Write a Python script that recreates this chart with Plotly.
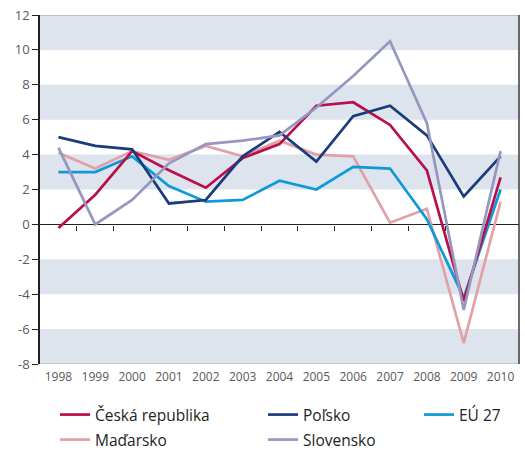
import plotly.graph_objects as go

years = [1998, 1999, 2000, 2001, 2002, 2003, 2004, 2005, 2006, 2007, 2008, 2009, 2010]
y_ticks = [-8, -6, -4, -2, 0, 2, 4, 6, 8, 10, 12]
y_tick_labels = ["-8", "-6", "-4", "-2", "0", "2", "4", "6", "8", "10", "12"]

cesko = [-0.2, 1.7, 4.2, 3.1, 2.1, 3.8, 4.6, 6.8, 7.0, 5.7, 3.1, -4.4, 2.7]
polsko = [5.0, 4.5, 4.3, 1.2, 1.4, 3.9, 5.3, 3.6, 6.2, 6.8, 5.1, 1.6, 3.9]
eu27 = [3.0, 3.0, 3.9, 2.2, 1.3, 1.4, 2.5, 2.0, 3.3, 3.2, 0.3, -4.2, 2.0]
madarsko = [4.1, 3.2, 4.2, 3.7, 4.5, 3.9, 4.8, 4.0, 3.9, 0.1, 0.9, -6.8, 1.3]
slovensko = [4.4, 0.0, 1.4, 3.5, 4.6, 4.8, 5.1, 6.7, 8.5, 10.5, 5.8, -4.9, 4.2]

series = [
    ("Maďarsko", madarsko, "#e1a1a6", "legend4"),
    ("EÚ 27", eu27, "#0d9ad8", "legend3"),
    ("Česká republika", cesko, "#b80f4a", "legend"),
    ("Poľsko", polsko, "#1b3b7a", "legend2"),
    ("Slovensko", slovensko, "#9697bf", "legend5"),
]

FONT = "Open Sans"
W, H = 525, 453
ML, MR, MT, MB = 40, 6, 15, 89
PW, PH = W - ML - MR, H - MT - MB

fig = go.Figure()
for name, vals, color, leg in series:
    fig.add_trace(go.Scatter(x=years, y=vals, name=name, mode="lines",
                             line=dict(color=color, width=2.7), legend=leg))

# helper trace for the tick axis along zero
fig.add_trace(go.Scatter(x=[years[0]], y=[0], xaxis="x2", mode="lines",
                         showlegend=False, hoverinfo="skip",
                         line=dict(color="rgba(0,0,0,0)")))

shapes = []
band = "#dee4ed"
for lo, hi in [(10, 12), (6, 8), (2, 4), (-4, -2), (-8, -6)]:
    shapes.append(dict(type="rect", xref="x domain", yref="y", x0=0, x1=1,
                       y0=lo, y1=hi, fillcolor=band, line=dict(width=0), layer="below"))
shapes.append(dict(type="line", xref="x domain", yref="y", x0=0, x1=1, y0=12, y1=12,
                   line=dict(color="#bcbec0", width=2), layer="below"))
shapes.append(dict(type="line", xref="x domain", yref="y", x0=0, x1=1, y0=-8, y1=-8,
                   line=dict(color="#bcbec0", width=1.5), layer="below"))
shapes.append(dict(type="line", xref="x domain", yref="y domain", x0=1, x1=1, y0=0, y1=1,
                   line=dict(color="#3a3a3a", width=1.5), layer="below"))

legend_pos = {
    "legend": (55, 415),
    "legend2": (263, 415),
    "legend3": (419, 415),
    "legend4": (55, 440),
    "legend5": (263, 440),
}
leg_layout = {}
for key, (px, py) in legend_pos.items():
    leg_layout[key] = dict(xref="paper", yref="paper", x=(px - ML) / PW, y=(H - MB - py) / PH,
                           xanchor="left", yanchor="middle", orientation="v",
                           bgcolor="rgba(0,0,0,0)", borderwidth=0,
                           font=dict(family=FONT, size=15.5, color="#231f20"))

fig.update_layout(
    width=W, height=H,
    margin=dict(l=ML, r=MR, t=MT, b=MB, autoexpand=False),
    plot_bgcolor="white", paper_bgcolor="white",
    font=dict(family=FONT, color="#58595b"),
    shapes=shapes,
    xaxis=dict(range=[1997.5, 2010.5], tickvals=years, ticks="", showgrid=False,
               zeroline=False, showline=False, tickfont=dict(size=12, color="#58595b"),
               ticklabelstandoff=4),
    xaxis2=dict(overlaying="x", anchor="free", position=0.4, side="bottom",
                range=[1997.5, 2010.5], tickvals=[y + 0.5 for y in years[:-1]],
                ticks="outside", ticklen=5, tickcolor="#231f20", tickwidth=1,
                showticklabels=False, showgrid=False, zeroline=False,
                showline=True, linecolor="#231f20", linewidth=1.2, layer="below traces"),
    yaxis=dict(range=[-8, 12], tickvals=y_ticks, ticktext=y_tick_labels,
               ticks="outside", ticklen=6,
               tickcolor="#231f20", showgrid=False, zeroline=False, showline=True,
               linecolor="#231f20", linewidth=1.5, tickfont=dict(size=13, color="#58595b")),
    showlegend=True,
    **leg_layout,
)

fig.write_html("out.html", config={"displayModeBar": False},
               post_script="document.body.style.margin='0px';")
